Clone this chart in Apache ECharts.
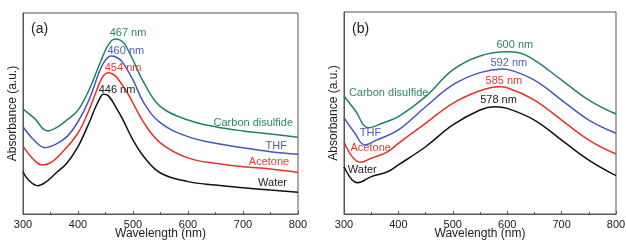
<!DOCTYPE html>
<html>
<head>
<meta charset="utf-8">
<title>UV-vis absorbance</title>
<script src="https://cdn.jsdelivr.net/npm/echarts@6/dist/echarts.min.js"></script>
<style>
  html, body { margin: 0; padding: 0; background: #fff; }
  #chart { width: 626px; height: 240px; }
</style>
</head>
<body>
<div id="chart"></div>
<script>
// x axis ticks (nm)
var xTicks = [300, 400, 500, 600, 700, 800];
var solvents = ['Water', 'Acetone', 'THF', 'Carbon disulfide'];
var colors = ['#111111', '#e5312b', '#4657b5', '#1f806c'];
var labelColors = ['#222222', '#e23a33', '#4d5cbf', '#2c8a5a'];

// panel (a) - wavelength / absorbance per solvent
var aWaterWl = [300, 310, 327, 340, 360, 380, 400, 420, 430, 440, 446, 455, 470, 480, 500, 520, 550, 600, 650, 700, 750, 800];
var aWaterAb = [0.210, 0.169, 0.141, 0.156, 0.204, 0.254, 0.335, 0.453, 0.520, 0.577, 0.596, 0.589, 0.526, 0.478, 0.368, 0.284, 0.204, 0.161, 0.144, 0.131, 0.119, 0.108];
var aAcetoneWl = [300, 320, 335, 350, 370, 400, 420, 440, 447, 454, 462, 470, 490, 500, 520, 550, 600, 650, 700, 750, 800];
var aAcetoneAb = [0.338, 0.269, 0.244, 0.255, 0.303, 0.403, 0.517, 0.657, 0.690, 0.703, 0.698, 0.682, 0.602, 0.552, 0.453, 0.353, 0.279, 0.252, 0.235, 0.224, 0.207];
var aThfWl = [300, 320, 340, 360, 380, 400, 420, 440, 450, 460, 470, 480, 500, 520, 550, 600, 650, 700, 750, 800];
var aThfAb = [0.434, 0.368, 0.330, 0.348, 0.385, 0.459, 0.567, 0.716, 0.766, 0.786, 0.780, 0.758, 0.667, 0.552, 0.453, 0.385, 0.352, 0.330, 0.310, 0.297];
var aCs2Wl = [300, 320, 345, 360, 380, 400, 420, 440, 455, 467, 476, 485, 500, 520, 550, 600, 650, 700, 750, 800];
var aCs2Ab = [0.522, 0.478, 0.413, 0.428, 0.468, 0.517, 0.617, 0.751, 0.841, 0.871, 0.866, 0.845, 0.766, 0.652, 0.534, 0.468, 0.434, 0.413, 0.398, 0.382];

// panel (b)
var bWaterWl = [300, 315, 325, 350, 380, 400, 450, 500, 550, 578, 600, 650, 700, 750, 800];
var bWaterAb = [0.234, 0.168, 0.155, 0.185, 0.209, 0.243, 0.333, 0.441, 0.515, 0.531, 0.523, 0.465, 0.366, 0.267, 0.190];
var bAcetoneWl = [300, 315, 330, 350, 380, 400, 450, 500, 550, 585, 600, 650, 700, 750, 800];
var bAcetoneAb = [0.358, 0.284, 0.256, 0.276, 0.308, 0.350, 0.449, 0.548, 0.610, 0.630, 0.625, 0.564, 0.465, 0.366, 0.297];
var bThfWl = [300, 320, 338, 360, 400, 450, 500, 550, 592, 600, 650, 700, 750, 800];
var bThfAb = [0.477, 0.400, 0.342, 0.366, 0.416, 0.531, 0.639, 0.700, 0.718, 0.716, 0.663, 0.564, 0.465, 0.400];
var bCs2Wl = [300, 320, 345, 370, 400, 450, 500, 550, 600, 620, 650, 700, 750, 800];
var bCs2Ab = [0.584, 0.515, 0.427, 0.449, 0.482, 0.581, 0.713, 0.782, 0.803, 0.799, 0.762, 0.663, 0.564, 0.495];

// peak labels: [wavelength, absorbance] where the text sits
var aPeakText = ['446 nm', '454 nm', '460 nm', '467 nm'];
var aPeakPos = [[471, 0.617], [482, 0.726], [487, 0.811], [491, 0.900]];
var bPeakText = ['578 nm', '585 nm', '592 nm', '600 nm'];
var bPeakPos = [[584, 0.564], [594, 0.660], [603, 0.748], [614, 0.837]];
// solvent names
var aNamePos = [[780, 0.154], [784, 0.259], [780, 0.338], [791, 0.453]];
var bNamePos = [[307, 0.218], [312, 0.328], [329, 0.400], [309, 0.598]];

var FONT = 'Liberation Sans, Arial, sans-serif';

function pairs(wl, ab) {
  var out = [];
  for (var i = 0; i < wl.length; i++) out.push([wl[i], ab[i]]);
  return out;
}

function marks(i, peakText, peakPos, namePos, nameAlign) {
  return {
    silent: true,
    symbol: 'circle',
    symbolSize: 0,
    animation: false,
    data: [
      {
        coord: peakPos[i], value: peakText[i],
        label: { show: true, formatter: peakText[i], color: labelColors[i], fontSize: 11, fontFamily: FONT, align: 'center', verticalAlign: 'middle', position: 'inside' }
      },
      {
        coord: namePos[i], value: solvents[i],
        label: { show: true, formatter: solvents[i], color: labelColors[i], fontSize: 11, fontFamily: FONT, align: nameAlign, verticalAlign: 'middle', position: 'inside' }
      }
    ]
  };
}

function xAxisFor(idx) {
  return {
    type: 'value', gridIndex: idx, min: 300, max: 800, interval: 100,
    name: 'Wavelength (nm)', nameLocation: 'middle', nameGap: 14, nameMoveOverlap: false,
    nameTextStyle: { fontSize: 12, color: '#222', fontFamily: FONT },
    axisLine: { lineStyle: { color: '#555', width: 1 } },
    axisTick: { inside: true, length: 3, lineStyle: { color: '#555' } },
    minorTick: { show: true, splitNumber: 2, length: 2, lineStyle: { color: '#555' } },
    axisLabel: { fontSize: 11, color: '#222', margin: 5, fontFamily: FONT,
      formatter: function (v) { return xTicks.indexOf(v) >= 0 ? String(v) : ''; } },
    splitLine: { show: false }
  };
}

function yAxisFor(idx) {
  return {
    type: 'value', gridIndex: idx, min: 0, max: 1,
    name: 'Absorbance (a.u.)', nameLocation: 'middle', nameGap: 4, nameMoveOverlap: false,
    nameTextStyle: { fontSize: 12, color: '#222', fontFamily: FONT },
    axisLine: { show: true, lineStyle: { color: '#555', width: 1 } },
    axisTick: { show: false }, axisLabel: { show: false }, splitLine: { show: false }
  };
}

var sets = [
  [pairs(aWaterWl, aWaterAb), pairs(aAcetoneWl, aAcetoneAb), pairs(aThfWl, aThfAb), pairs(aCs2Wl, aCs2Ab)],
  [pairs(bWaterWl, bWaterAb), pairs(bAcetoneWl, bAcetoneAb), pairs(bThfWl, bThfAb), pairs(bCs2Wl, bCs2Ab)]
];

var series = [];
for (var p = 0; p < 2; p++) {
  for (var i = 0; i < 4; i++) {
    series.push({
      type: 'line', name: solvents[i], xAxisIndex: p, yAxisIndex: p,
      data: sets[p][i], smooth: 0.4, showSymbol: false, symbol: 'none',
      lineStyle: { color: colors[i], width: 1.5 },
      markPoint: p === 0 ? marks(i, aPeakText, aPeakPos, aNamePos, 'right') : marks(i, bPeakText, bPeakPos, bNamePos, 'left')
    });
  }
}

var chart = echarts.init(document.getElementById('chart'), null, { renderer: 'canvas' });
chart.setOption({
  animation: false,
  backgroundColor: '#fff',
  title: [
    { text: '(a)', left: 26, top: 17, textStyle: { fontSize: 14, fontWeight: 'normal', color: '#222', fontFamily: FONT } },
    { text: '(b)', left: 347, top: 17, textStyle: { fontSize: 14, fontWeight: 'normal', color: '#222', fontFamily: FONT } }
  ],
  grid: [
    // outerBoundsMode none: keep the plot box where it is, labels may hang below
    { left: 23, top: 13, width: 275, height: 201, show: true, borderColor: '#555', borderWidth: 1, containLabel: false, outerBoundsMode: 'none' },
    { left: 344, top: 12, width: 272, height: 202, show: true, borderColor: '#555', borderWidth: 1, containLabel: false, outerBoundsMode: 'none' }
  ],
  xAxis: [xAxisFor(0), xAxisFor(1)],
  yAxis: [yAxisFor(0), yAxisFor(1)],
  series: series
});
</script>
</body>
</html>
